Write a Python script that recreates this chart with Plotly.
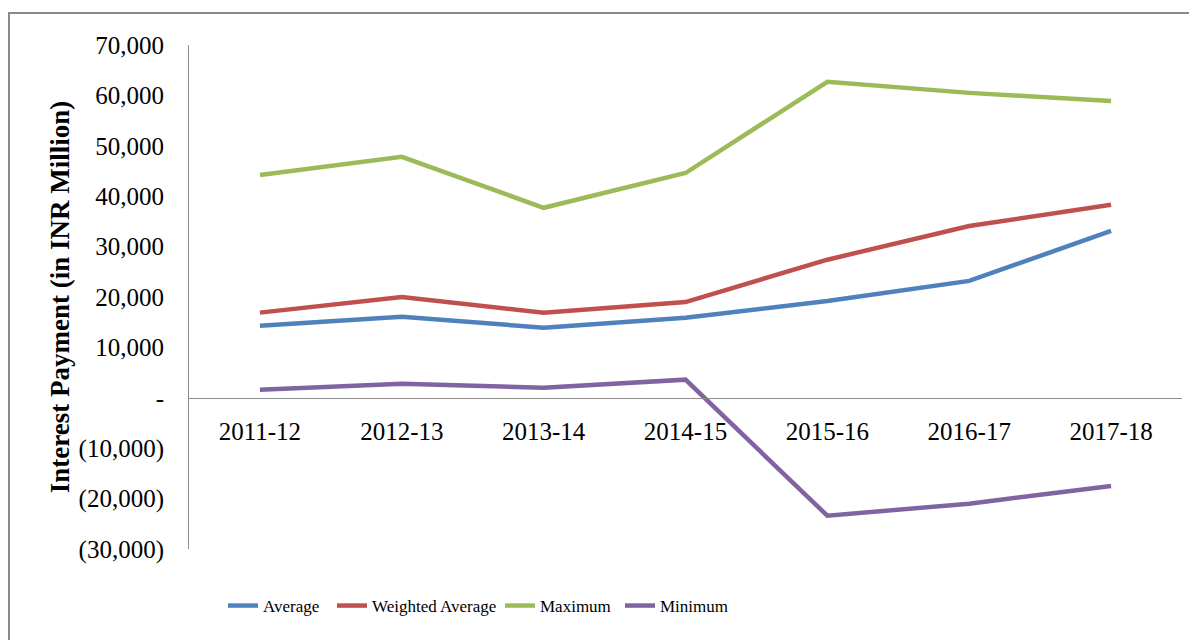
import plotly.graph_objects as go

years = ["2011-12", "2012-13", "2013-14", "2014-15", "2015-16", "2016-17", "2017-18"]
average = [14300, 16100, 13900, 15900, 19200, 23200, 33100]
weighted_average = [16900, 20000, 16900, 19000, 27400, 34100, 38300]
maximum = [44200, 47800, 37700, 44600, 62700, 60500, 58900]
minimum = [1600, 2800, 2000, 3600, -23400, -21000, -17500]

y_ticks = [-30000, -20000, -10000, 0, 10000, 20000, 30000, 40000, 50000, 60000, 70000]
y_ticktext = ["(30,000)", "(20,000)", "(10,000)", "-", "10,000", "20,000", "30,000",
              "40,000", "50,000", "60,000", "70,000"]

series = [
    ("Average", average, "#4F81BD", "legend"),
    ("Weighted Average", weighted_average, "#C0504D", "legend2"),
    ("Maximum", maximum, "#9BBB59", "legend3"),
    ("Minimum", minimum, "#8064A2", "legend4"),
]

# page body has an 8px margin; plot area target (page px): x 189..1182, y 45..549
OFF = 8
L, R, T, B = 189 - OFF, 1182 - OFF, 45 - OFF, 549 - OFF
W, H = 1197, 640
PW, PH = R - L, B - T

fig = go.Figure()
for name, vals, color, lg in series:
    fig.add_trace(go.Scatter(
        x=years, y=vals, name=name, mode="lines", legend=lg,
        line=dict(color=color, width=4.5),
    ))

ymin, ymax = -30000, 70000
zero_pos = (0 - ymin) / (ymax - ymin)


def px_x(page_x):
    return (page_x - OFF - L) / PW


def px_y(page_y):
    return (B - (page_y - OFF)) / PH


legend_font = dict(size=17, family="Liberation Serif, serif", color="black")
legend_y = px_y(606)
legend_starts = [228, 337, 505, 625]
legends = {}
for key, sx in zip(["legend", "legend2", "legend3", "legend4"], legend_starts):
    legends[key] = dict(
        orientation="h", x=px_x(sx - 5), xanchor="left", y=legend_y, yanchor="middle",
        font=legend_font, bgcolor="rgba(0,0,0,0)", borderwidth=0,
    )

fig.update_layout(
    width=W, height=H,
    margin=dict(l=L, r=W - R, t=T, b=H - B),
    paper_bgcolor="white", plot_bgcolor="white",
    font=dict(family="Liberation Serif, DejaVu Serif, serif", color="black", size=25),
    showlegend=True,
    **legends,
    xaxis=dict(
        type="category", range=[-0.5, 6.5],
        anchor="free", position=zero_pos,
        showline=True, linecolor="#8c8c8c", linewidth=1,
        showgrid=False, zeroline=False, ticks="",
        tickfont=dict(size=25), ticklabelstandoff=11,
    ),
    yaxis=dict(
        range=[ymin, ymax], tickvals=y_ticks, ticktext=y_ticktext,
        showline=True, linecolor="#8c8c8c", linewidth=1,
        showgrid=False, zeroline=False, ticks="",
        tickfont=dict(size=25), ticklabelstandoff=19,
        title=dict(text="<b>Interest Payment (in INR Million)</b>",
                   font=dict(size=27), standoff=1),
    ),
    shapes=[dict(
        type="rect", xref="paper", yref="paper",
        x0=px_x(9), x1=px_x(1230), y0=px_y(700), y1=px_y(13),
        line=dict(color="#8a8a8a", width=2), fillcolor="rgba(0,0,0,0)", layer="below",
    )],
)

fig.write_html("out.html")
